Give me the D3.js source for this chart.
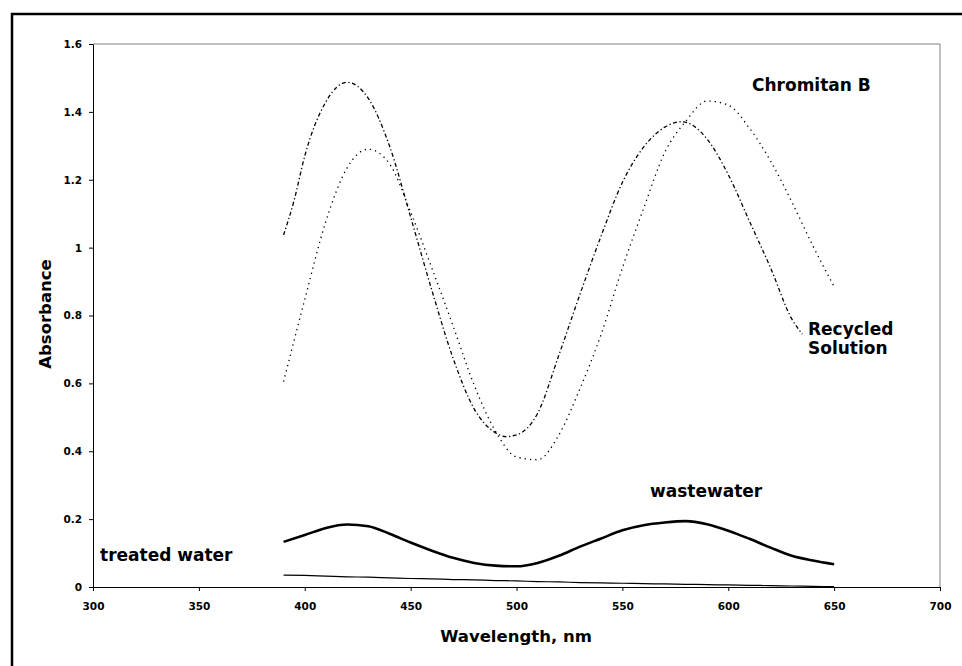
<!DOCTYPE html>
<html>
<head>
<meta charset="utf-8">
<script src="https://cdn.jsdelivr.net/npm/d3@7"></script>
<style>
  body { margin: 0; background: #fff; }
  svg { display: block; }
  text { font-family: "DejaVu Sans", sans-serif; font-weight: bold; fill: #000; }
</style>
</head>
<body>
<svg id="chart" width="962" height="666"></svg>
<script>
// wavelength grid (nm)
const wl = [390, 400, 410, 420, 430, 440, 450, 460, 470, 480, 490, 500, 510, 520,
  530, 540, 550, 560, 570, 580, 590, 600, 610, 620, 630, 640, 650];

// Chromitan B (dotted)
const chromitan = [0.605, 0.847, 1.078, 1.235, 1.29, 1.247, 1.105, 0.94, 0.77, 0.595,
  0.46, 0.383, 0.375, 0.448, 0.585, 0.745, 0.94, 1.115, 1.28, 1.373, 1.432, 1.42,
  1.352, 1.255, 1.135, 1.005, 0.885];

// Recycled Solution (dash-dot), stops short at 635 nm
const recycledWl = [390, 395, 400, 410, 420, 430, 440, 450, 460, 470, 480, 490, 495,
  500, 510, 520, 530, 540, 550, 560, 570, 578, 590, 600, 610, 620, 630, 635];
const recycled = [1.037, 1.14, 1.27, 1.43, 1.487, 1.44, 1.30, 1.09, 0.875, 0.675, 0.525,
  0.455, 0.443, 0.448, 0.512, 0.683, 0.863, 1.035, 1.192, 1.296, 1.355, 1.371, 1.32,
  1.215, 1.078, 0.94, 0.79, 0.745];

// wastewater (thick solid)
const wastewater = [0.133, 0.153, 0.174, 0.184, 0.179, 0.157, 0.131, 0.107, 0.086, 0.071,
  0.063, 0.061, 0.071, 0.092, 0.119, 0.143, 0.167, 0.182, 0.19, 0.194, 0.185, 0.166,
  0.142, 0.116, 0.092, 0.078, 0.067];

// treated water (thin solid)
const treated = [0.035, 0.034, 0.032, 0.03, 0.029, 0.027, 0.025, 0.024, 0.022, 0.021,
  0.019, 0.018, 0.016, 0.015, 0.013, 0.012, 0.011, 0.01, 0.009, 0.008, 0.007, 0.006,
  0.005, 0.004, 0.003, 0.002, 0.001];

const xTicks = [300, 350, 400, 450, 500, 550, 600, 650, 700];
const yTicks = [0, 0.2, 0.4, 0.6, 0.8, 1, 1.2, 1.4, 1.6];

const svg = d3.select('#chart');

// outer chart border (only left/top fall inside the picture)
svg.append('rect')
  .attr('x', 12).attr('y', 14)
  .attr('width', 980).attr('height', 700)
  .attr('fill', 'none')
  .attr('stroke', '#000')
  .attr('stroke-width', 2.5);

const x = d3.scaleLinear().domain([300, 700]).range([93, 940]);
const y = d3.scaleLinear().domain([0, 1.6]).range([587, 44]);

// plot area frame (grey top / right)
svg.append('path')
  .attr('d', `M${x(300)},${y(1.6)}H${x(700)}V${y(0)}`)
  .attr('fill', 'none')
  .attr('stroke', '#808080')
  .attr('stroke-width', 1);

const xAxis = svg.append('g')
  .attr('transform', `translate(0,${y(0)})`)
  .call(d3.axisBottom(x).tickValues(xTicks).tickSize(4).tickSizeOuter(0).tickPadding(12)
    .tickFormat(d => d));

const yAxis = svg.append('g')
  .attr('transform', `translate(${x(300)},0)`)
  .call(d3.axisLeft(y).tickValues(yTicks).tickSize(4).tickSizeOuter(0).tickPadding(7)
    .tickFormat(d => d));

[xAxis, yAxis].forEach(g => {
  g.selectAll('text').style('font-size', '10.5px').attr('fill', '#000');
  g.selectAll('path, line').attr('stroke', '#000');
  g.attr('font-family', null);
});

const line = d3.line()
  .x(d => x(d[0]))
  .y(d => y(d[1]))
  .curve(d3.curveMonotoneX);

const series = [
  { pts: d3.zip(wl, chromitan), width: 1.3, dash: '1.3,4' },
  { pts: d3.zip(recycledWl, recycled), width: 1.3, dash: '4,2.5,1.3,2.5' },
  { pts: d3.zip(wl, wastewater), width: 2.6, dash: null },
  { pts: d3.zip(wl, treated), width: 1.2, dash: null }
];

svg.append('g')
  .selectAll('path')
  .data(series)
  .join('path')
    .attr('d', d => line(d.pts))
    .attr('fill', 'none')
    .attr('stroke', '#000')
    .attr('stroke-width', d => d.width)
    .attr('stroke-dasharray', d => d.dash);

// axis titles
svg.append('text')
  .attr('x', 516).attr('y', 642)
  .attr('text-anchor', 'middle')
  .style('font-size', '16.5px')
  .text('Wavelength, nm');

svg.append('text')
  .attr('transform', 'translate(51,314) rotate(-90)')
  .attr('text-anchor', 'middle')
  .style('font-size', '16.5px')
  .text('Absorbance');

// series labels
const labels = [
  { text: 'Chromitan B', x: 752, y: 91 },
  { text: 'Recycled', x: 808, y: 335 },
  { text: 'Solution', x: 808, y: 354 },
  { text: 'wastewater', x: 650, y: 497 },
  { text: 'treated water', x: 100, y: 561 }
];

svg.append('g')
  .selectAll('text')
  .data(labels)
  .join('text')
    .attr('x', d => d.x)
    .attr('y', d => d.y)
    .style('font-size', '17px')
    .text(d => d.text);
</script>
</body>
</html>
